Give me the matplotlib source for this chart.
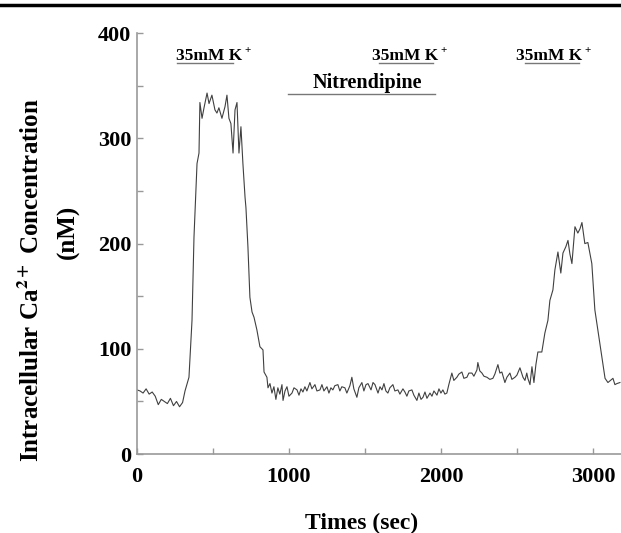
import matplotlib
matplotlib.use("Agg")
import matplotlib.pyplot as plt
from matplotlib.lines import Line2D
from matplotlib.ticker import MultipleLocator

plt.rcParams['font.family'] = ['Liberation Serif', 'DejaVu Serif']
plt.rcParams['font.weight'] = 'bold'
plt.rcParams['mathtext.fontset'] = 'stix'

# time (sec) and intracellular Ca2+ (nM)
time = [0, 20, 40, 60, 80, 100, 120, 140, 160, 180, 200, 220, 240, 260, 280, 300,
        316, 342, 362, 375, 395, 408, 414, 428, 441, 461, 474, 493, 513, 526, 539,
        559, 579, 592, 605, 618, 632, 645, 658, 664, 671, 684, 697, 711, 717, 730,
        743, 757, 770, 789, 809, 829, 836, 855, 862,
        875, 888, 901, 914, 927, 940, 954, 961, 974, 987, 1000, 1020, 1033, 1053,
        1066, 1079, 1092, 1105, 1118, 1138, 1151, 1171, 1184, 1204, 1217, 1230,
        1250, 1263, 1276, 1289, 1302, 1322, 1335, 1348, 1368, 1381, 1401, 1414,
        1427, 1447, 1460, 1480, 1493, 1507, 1520, 1540, 1553, 1566, 1586, 1599,
        1612, 1625, 1638, 1651, 1664, 1684, 1697, 1717, 1730, 1750, 1763, 1776,
        1789, 1809, 1822, 1842, 1855, 1869, 1882, 1895, 1908, 1928, 1941, 1954,
        1974, 1987, 2000, 2013, 2026, 2039, 2052, 2072, 2085, 2105, 2118, 2138,
        2151, 2171, 2184, 2204, 2217, 2237, 2243, 2256, 2270, 2283, 2303, 2322,
        2342, 2355, 2375, 2388, 2401, 2421, 2434, 2454, 2467, 2487, 2500, 2520,
        2540, 2553, 2565, 2572, 2586, 2599, 2612, 2625, 2638, 2664, 2684, 2704,
        2717, 2737, 2750, 2770, 2789, 2803, 2822, 2836, 2849, 2862, 2882, 2901,
        2915, 2928, 2947, 2967, 2993, 3013, 3046, 3066, 3080, 3099, 3115, 3132,
        3145, 3158, 3178]
conc = [61, 60, 58, 62, 57, 59, 55, 47, 52, 50, 48, 53, 46, 50, 45, 49,
        60, 73, 127, 206, 276, 286, 334, 319, 329, 343, 333, 341, 327, 324, 329,
        319, 330, 341, 319, 314, 286, 327, 334, 311, 286, 311, 276, 244, 234, 197,
        149, 135, 130, 118, 102, 99, 78, 73, 63,
        67, 58, 64, 52, 63, 57, 66, 51, 60, 64, 55, 58, 63, 61,
        56, 62, 59, 64, 60, 68, 62, 66, 60, 61, 66, 60,
        64, 58, 63, 61, 65, 66, 60, 64, 63, 58, 65, 73,
        62, 54, 63, 68, 60, 66, 67, 61, 68, 66, 58, 64,
        61, 67, 60, 58, 63, 66, 60, 61, 57, 62, 59, 55,
        60, 61, 56, 51, 58, 52, 54, 59, 53, 58, 55, 60,
        56, 62, 58, 61, 57, 58, 66, 77, 70, 73, 76, 78,
        72, 73, 77, 77, 74, 80, 87, 79, 77, 74, 73, 71,
        72, 76, 85, 77, 78, 68, 73, 77, 71, 73, 75, 82,
        73, 70, 77, 72, 66, 83, 68, 85, 97, 97, 115, 127,
        146, 156, 175, 192, 172, 191, 197, 203, 190, 181, 216, 210,
        214, 220, 200, 201, 181, 137, 105, 85, 72, 68, 70, 72,
        66, 67, 68]

# 35mM K+ application bars and nitrendipine bar (sec)
bar_start = [263, 1592, 2553]
bar_end = [632, 1947, 2908]
drug_start = 993
drug_end = 1961

fig = plt.figure(figsize=(6.21, 5.33), dpi=100)
ax = fig.add_axes([0.2206, 0.148, 0.7794, 0.790])

ax.plot(time, conc, color='#404040', lw=0.8)

ax.set_xlim(0, 3185)
ax.set_ylim(0, 400)
ax.xaxis.set_major_locator(MultipleLocator(1000))
ax.xaxis.set_minor_locator(MultipleLocator(500))
ax.yaxis.set_major_locator(MultipleLocator(100))
ax.yaxis.set_minor_locator(MultipleLocator(50))
ax.tick_params(which='both', direction='in', color='#999999', width=1, length=4)
ax.tick_params(which='major', labelsize=16, pad=9)
ax.tick_params(axis='y', which='major', pad=4)
for lab in ax.get_xticklabels() + ax.get_yticklabels():
    lab.set_fontweight('bold')

for s in ['top', 'right']:
    ax.spines[s].set_visible(False)
for s in ['left', 'bottom']:
    ax.spines[s].set_color('#999999')
    ax.spines[s].set_linewidth(1.2)

# stimulus bars, label start shifted a little left of each bar
label_shift = [-5, -46, -60]
for x0, x1, dx in zip(bar_start, bar_end, label_shift):
    ax.plot([x0, x1], [372, 372], color='#777777', lw=1)
    t = ax.text(x0 + dx, 371, '35mM K', fontsize=12.5, fontweight='bold',
                ha='left', va='bottom')
    ax.annotate('+', xy=(1, 1), xycoords=t, xytext=(1.5, -2),
                textcoords='offset points', fontsize=8, fontweight='bold',
                ha='left', va='center')
ax.plot([drug_start, drug_end], [342, 342], color='#777777', lw=1)
ax.text(1513, 343, 'Nitrendipine', fontsize=14.5,
        fontweight='bold', ha='center', va='bottom')

ax.set_xlabel('Times (sec)', fontsize=17, fontweight='bold')
ax.xaxis.set_label_coords(0.463, -0.14)

fig.text(0.05, 0.475, r'Intracellular Ca$^{\mathbf{2+}}$ Concentration', rotation=90,
         fontsize=18, fontweight='bold', ha='center', va='center')
fig.text(0.11, 0.565, '(nM)', rotation=90, fontsize=18, fontweight='bold',
         ha='center', va='center')

# thick rule across the top
fig.add_artist(Line2D([0, 1], [0.9906, 0.9906], transform=fig.transFigure,
                      color='black', lw=2.5))

fig.savefig('out.png', dpi=100)
